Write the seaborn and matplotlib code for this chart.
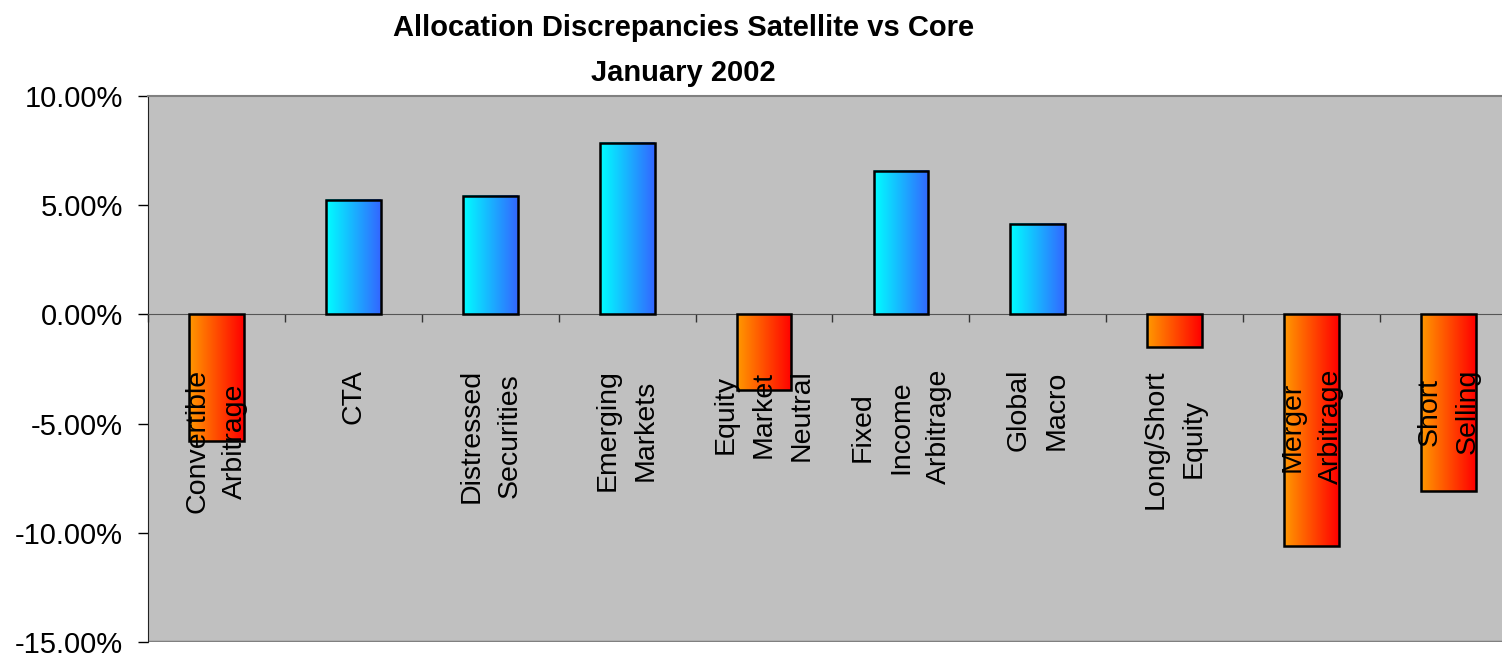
import numpy as np
import seaborn as sns
import matplotlib.pyplot as plt
from matplotlib.colors import LinearSegmentedColormap
from matplotlib.ticker import FuncFormatter

# values
labels = ["Convertible\nArbitrage", "CTA", "Distressed\nSecurities", "Emerging\nMarkets",
          "Equity\nMarket\nNeutral", "Fixed\nIncome\nArbitrage", "Global\nMacro",
          "Long/Short\nEquity", "Merger\nArbitrage", "Short\nSelling"]
values = [-0.0580, 0.0524, 0.0542, 0.0787, -0.0345, 0.0657, 0.0415, -0.0151, -0.1060, -0.0808]
yticks = [-0.15, -0.10, -0.05, 0.0, 0.05, 0.10]

sns.set_style("white")
plt.rcParams["font.family"] = ["Liberation Sans", "DejaVu Sans"]
plt.rcParams["text.color"] = "black"
plt.rcParams["xtick.color"] = "black"
plt.rcParams["ytick.color"] = "black"

fig = plt.figure(figsize=(15.02, 6.53), dpi=100)
ax = fig.add_axes([0.0985, 0.0169, 0.9115, 0.836])
ax.set_facecolor("#C0C0C0")

sns.barplot(x=list(range(len(values))), y=values, width=0.4, ax=ax,
            color="white", edgecolor="black", linewidth=1.8)

pos_cmap = LinearSegmentedColormap.from_list("pos", ["#00FFFF", "#3366FF"])
neg_cmap = LinearSegmentedColormap.from_list("neg", ["#FF9900", "#FF0000"])
grad = np.linspace(0, 1, 256).reshape(1, -1)

for patch, v in zip(ax.patches, values):
    x0, w = patch.get_x(), patch.get_width()
    y0, h = patch.get_y(), patch.get_height()
    ax.imshow(grad, cmap=pos_cmap if v >= 0 else neg_cmap, aspect="auto",
              extent=[x0, x0 + w, min(y0, y0 + h), max(y0, y0 + h)],
              interpolation="bilinear", zorder=2)
    patch.set_facecolor("none")
    patch.set_zorder(3)

ax.set_xlim(-0.5, len(values) - 0.5)
ax.set_ylim(-0.15, 0.10)

# category labels sit inside the plot, rotated
for i, lab in enumerate(labels):
    ax.text(i, -0.0250, lab, rotation=90, ha="center", va="top", color="black",
            multialignment="center", fontsize=20.5, linespacing=1.6, zorder=5)

ax.set_xticks(np.arange(-0.5, len(values), 1))
ax.set_xticklabels([])
ax.set_yticks(yticks)
ax.yaxis.set_major_formatter(FuncFormatter(lambda v, p: f"{v * 100:.2f}%"))
ax.tick_params(axis="y", direction="out", length=7, width=1, pad=11, labelsize=21,
               left=True, colors="black")
ax.tick_params(axis="x", direction="out", length=6, width=1, bottom=True, colors="#333333")

ax.spines["bottom"].set_position(("data", 0))
ax.spines["bottom"].set_color("#555555")
ax.spines["top"].set_color("#808080")
ax.spines["top"].set_linewidth(1.5)
ax.spines["left"].set_color("#222222")
ax.spines["right"].set_visible(False)
ax.axhline(-0.15, color="#808080", lw=2.5, zorder=1)
ax.set_xlabel("")
ax.set_ylabel("")

fig.text(0.455, 1 - 28 / 653, "Allocation Discrepancies Satellite vs Core", ha="center",
         va="center", fontsize=21, fontweight="bold", color="black")
fig.text(0.455, 1 - 73 / 653, "January 2002", ha="center", va="center",
         fontsize=21, fontweight="bold", color="black")

fig.savefig("out.png", dpi=100)
